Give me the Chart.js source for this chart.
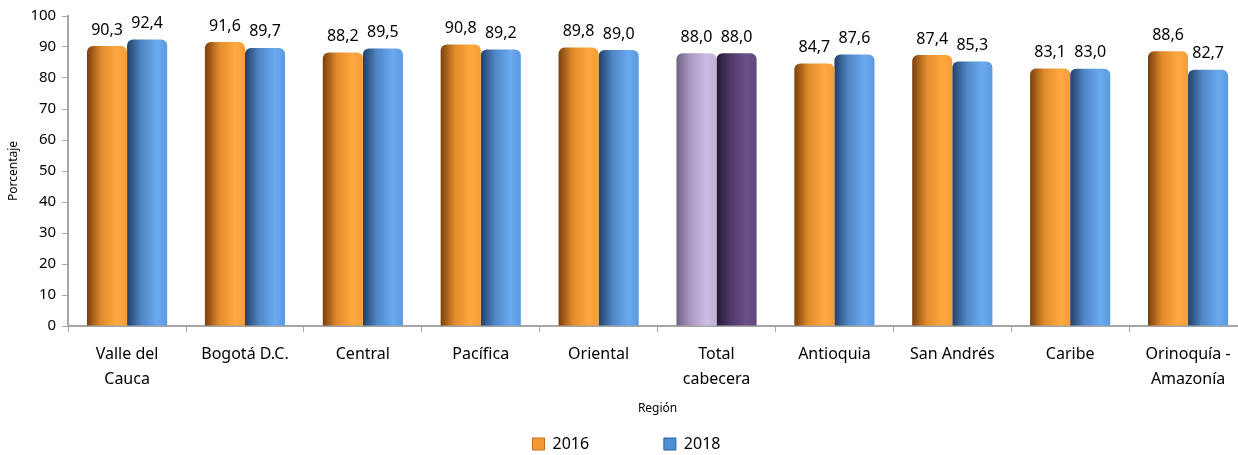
<!DOCTYPE html>
<html>
<head>
<meta charset="utf-8">
<script src="https://cdn.jsdelivr.net/npm/chart.js@4"></script>
<style>
  html, body { margin: 0; padding: 0; background: #fff; overflow: hidden; }
  #wrap { width: 1262px; height: 462px; }
</style>
</head>
<body>
<div id="wrap"><canvas id="grafico"></canvas></div>
<script>
// Datos
const regiones = [
  ['Valle del', 'Cauca'], 'Bogotá D.C.', 'Central', 'Pacífica', 'Oriental',
  ['Total', 'cabecera'], 'Antioquia', 'San Andrés', 'Caribe', ['Orinoquía -', 'Amazonía']
];
const valores2016 = [90.3, 91.6, 88.2, 90.8, 89.8, 88.0, 84.7, 87.4, 83.1, 88.6];
const valores2018 = [92.4, 89.7, 89.5, 89.2, 89.0, 88.0, 87.6, 85.3, 83.0, 82.7];
const ticksY = [0, 10, 20, 30, 40, 50, 60, 70, 80, 90, 100];

// Paletas para el efecto cilindro: [oscuro, medio, claro, borde]
const paletas = {
  naranja: ['#7a3f0c', '#e08a2c', '#ffa940', '#f59c36'],
  azul: ['#223f66', '#4f86c6', '#6aaaf0', '#5c99de'],
  lilaClaro: ['#6f6282', '#a998c2', '#cdbde3', '#bfb0d6'],
  lilaOscuro: ['#231a33', '#4d3868', '#6a5089', '#5f467c']
};
const indiceTotal = 5;

function paletaBarra(ds, i) {
  if (i === indiceTotal) return ds === 0 ? paletas.lilaClaro : paletas.lilaOscuro;
  return ds === 0 ? paletas.naranja : paletas.azul;
}

// Plugin: relleno con degradado horizontal y etiquetas de valor
const cilindros = {
  id: 'cilindros',
  beforeDatasetsDraw(chart) {
    const ctx = chart.ctx;
    chart.data.datasets.forEach((d, ds) => {
      chart.getDatasetMeta(ds).data.forEach((bar, i) => {
        const p = paletaBarra(ds, i);
        const x0 = bar.x - bar.width / 2, x1 = bar.x + bar.width / 2;
        const g = ctx.createLinearGradient(x0, 0, x1, 0);
        g.addColorStop(0, p[0]);
        g.addColorStop(0.35, p[1]);
        g.addColorStop(0.75, p[2]);
        g.addColorStop(1, p[3]);
        bar.options = Object.assign({}, bar.options, { backgroundColor: g });
      });
    });
  },
  afterDatasetsDraw(chart) {
    const ctx = chart.ctx;
    ctx.save();
    ctx.font = '16px "Noto Sans", sans-serif';
    ctx.fillStyle = '#000';
    ctx.textAlign = 'center';
    ctx.textBaseline = 'bottom';
    chart.data.datasets.forEach((d, ds) => {
      chart.getDatasetMeta(ds).data.forEach((bar, i) => {
        const txt = d.data[i].toFixed(1).replace('.', ',');
        ctx.fillText(txt, bar.x, bar.y - 8);
      });
    });
    ctx.restore();
  }
};

new Chart(document.getElementById('grafico'), {
  type: 'bar',
  data: {
    labels: regiones,
    datasets: [
      { label: '2016', data: valores2016, backgroundColor: '#f29a35', borderRadius: { topLeft: 6, topRight: 6 }, borderSkipped: 'bottom' },
      { label: '2018', data: valores2018, backgroundColor: '#5a96dc', borderRadius: { topLeft: 6, topRight: 6 }, borderSkipped: 'bottom' }
    ]
  },
  options: {
    responsive: true,
    maintainAspectRatio: false,
    animation: false,
    layout: { padding: { left: 6, right: 15, top: 16, bottom: 0 } },
    datasets: { bar: { categoryPercentage: 0.68, barPercentage: 1.0 } },
    plugins: {
      tooltip: { enabled: false },
      legend: {
        position: 'bottom',
        labels: {
          boxWidth: 12, boxHeight: 12, padding: 4,
          color: '#000',
          font: { family: '"Noto Sans", sans-serif', size: 16 },
          generateLabels(chart) {
            return chart.data.datasets.map((d, i) => ({
              text: i === 0 ? d.label + '                 ' : d.label,
              fillStyle: i === 0 ? '#f29a35' : '#4f8fd6',
              strokeStyle: i === 0 ? '#c06a18' : '#2f5f9a',
              lineWidth: 1, datasetIndex: i
            }));
          }
        }
      }
    },
    scales: {
      x: {
        grid: { display: true, offset: true, drawOnChartArea: false, tickLength: 6, color: '#a6a6a6' },
        border: { color: '#a6a6a6', width: 2 },
        ticks: { color: '#000', font: { family: '"Noto Sans", sans-serif', size: 16, lineHeight: 1.55 }, maxRotation: 0, autoSkip: false, padding: 10 },
        title: { display: true, text: 'Región', color: '#000', font: { family: '"Noto Sans", sans-serif', size: 12 }, padding: { top: 0, bottom: 16 } }
      },
      y: {
        min: 0, max: 100,
        afterBuildTicks(axis) { axis.ticks = ticksY.map(v => ({ value: v })); },
        grid: { display: true, drawOnChartArea: false, tickLength: 6, color: '#a6a6a6' },
        border: { color: '#a6a6a6', width: 2 },
        ticks: { color: '#000', font: { family: '"Noto Sans", sans-serif', size: 15 }, padding: 6 },
        title: { display: true, text: 'Porcentaje', color: '#000', font: { family: '"Noto Sans", sans-serif', size: 12 }, padding: { top: 0, bottom: 4 } }
      }
    }
  },
  plugins: [cilindros]
});
</script>
</body>
</html>
